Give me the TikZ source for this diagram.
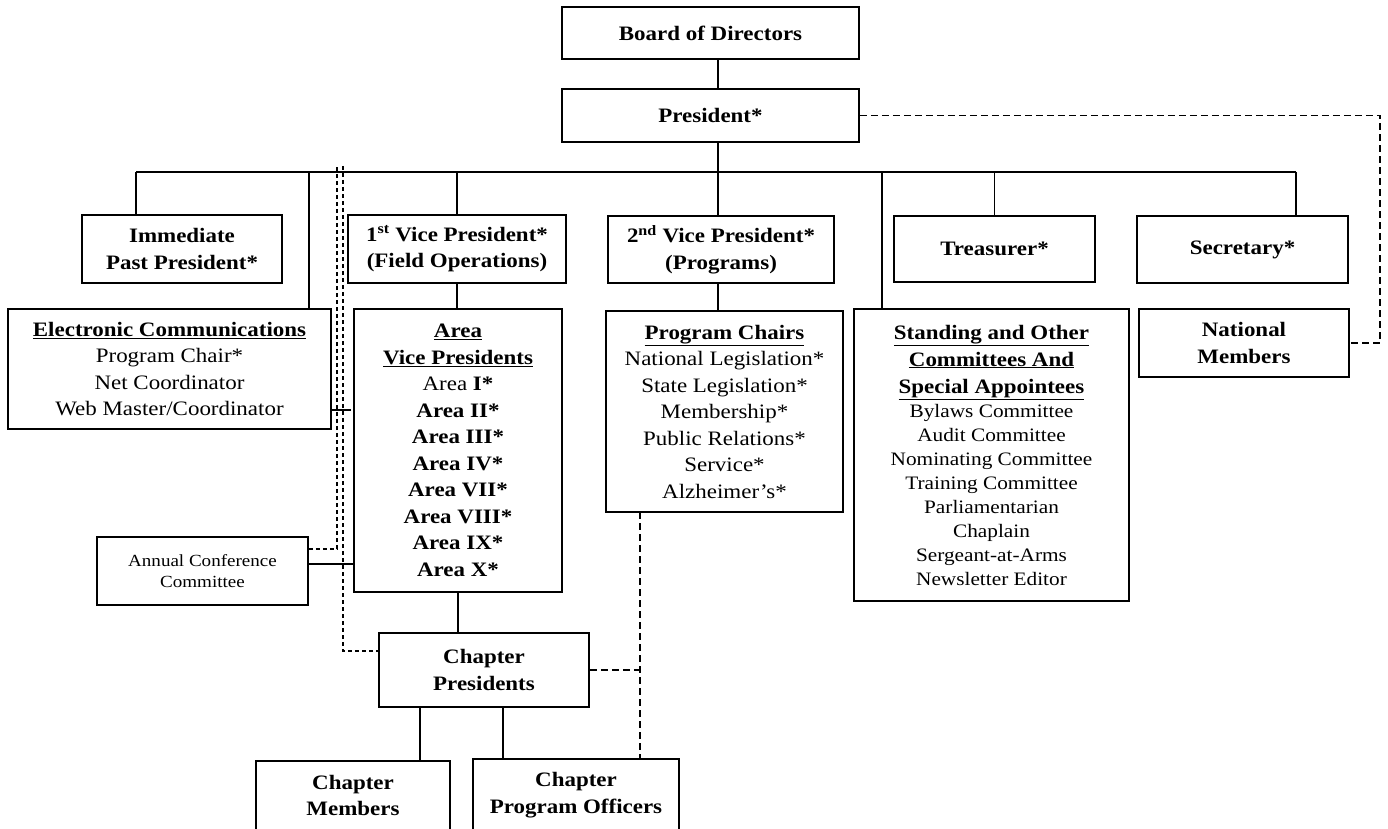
\documentclass[tikz,border=0pt]{standalone}
\usepackage{fontspec}
\setmainfont{Liberation Serif}[FakeStretch=1.12]
\usetikzlibrary{calc}

\begin{document}
\begin{tikzpicture}[x=1pt,y=-1pt,
                    box/.style={draw,fill=white,line width=1.8pt,inner sep=0pt,align=center,
                                font=\fontsize{20.5}{26.5}\selectfont\bfseries},
                    list/.style={box,font=\fontsize{20.5}{26.5}\selectfont},
                    link/.style={line width=1.6pt},
                    dashline/.style={line width=1.6pt,dash pattern=on 7pt off 4pt},
                    dashpair/.style={line width=1.4pt,dash pattern=on 4pt off 3pt}
]
\useasboundingbox (0,0) rectangle (1388,829);
\clip (0,0) rectangle (1388,829);

% top of the chart
\node [box, minimum width=297pt, minimum height=52pt] at (710.5,33) (board) {Board of Directors};
\node [box, minimum width=297pt, minimum height=53pt] at (710.5,115.5) (pres) {President*};
%
\node [box, minimum width=200pt, minimum height=68pt] at (182,249) (ipp) {Immediate\\Past President*};
\node [box, minimum width=218pt, minimum height=68pt] at (457,249) (vp1) {1\textsuperscript{st} Vice President*\\(Field Operations)};
\node [box, minimum width=226pt, minimum height=67pt] at (721,249.5) (vp2) {2\textsuperscript{nd} Vice President*\\(Programs)};
\node [box, minimum width=201pt, minimum height=66pt] at (994.5,249) (treas) {Treasurer*};
\node [box, minimum width=211pt, minimum height=67pt] at (1242.5,249.5) (sec) {Secretary*};
%
\node [list, minimum width=323pt, minimum height=120pt] at (169.5,369) (ecomm) {\textbf{\underline{Electronic Communications}}\\Program Chair*\\Net Coordinator\\Web Master/Coordinator};
\node [list, minimum width=208pt, minimum height=283pt] at (458,450.5) (avp) {\textbf{\underline{Area}}\\\textbf{\underline{Vice Presidents}}\\Area \textbf{I*}\\\textbf{Area II*}\\\textbf{Area III*}\\\textbf{Area IV*}\\\textbf{Area VII*}\\\textbf{Area VIII*}\\\textbf{Area IX*}\\\textbf{Area X*}};
\node [list, minimum width=237pt, minimum height=201pt] at (724.5,411.5) (pchairs) {\textbf{\underline{Program Chairs}}\\National Legislation*\\State Legislation*\\Membership*\\Public Relations*\\Service*\\Alzheimer's*};
\node [list, font=\fontsize{19}{24}\selectfont, minimum width=275pt, minimum height=292pt] at (991.5,455) (stand) {{\fontsize{20.5}{27}\selectfont\bfseries\underline{Standing and Other}}\\[3pt]{\fontsize{20.5}{27}\selectfont\bfseries\underline{Committees And}}\\[3pt]{\fontsize{20.5}{27}\selectfont\bfseries\underline{Special Appointees}}\\Bylaws Committee\\Audit Committee\\Nominating Committee\\Training Committee\\Parliamentarian\\Chaplain\\Sergeant-at-Arms\\Newsletter Editor};
\node [box, minimum width=210pt, minimum height=68pt] at (1244,343) (natmem) {National\\Members};
%
\node [list, font=\fontsize{17}{21}\selectfont, minimum width=211pt, minimum height=68pt] at (202.5,571) (acc) {Annual Conference\\Committee};
\node [box, minimum width=210pt, minimum height=74pt] at (484,670) (chpres) {Chapter\\Presidents};
\node [box, minimum width=194pt, minimum height=69pt] at (353,795.5) (chmem) {Chapter\\Members};
\node [box, minimum width=206pt, minimum height=72pt] at (576,795) (chpo) {Chapter\\Program Officers};

% points the lines turn at
\coordinate (busL) at (136,172);
\coordinate (busR) at (1296,172);
\coordinate (trunk) at (718,172);
\coordinate (ecdrop) at (309,172);
\coordinate (stdrop) at (882,172);
\coordinate (natR) at (1380,115.5);
\coordinate (pairL) at (337,166);
\coordinate (pairR) at (343,166);
\coordinate (pcdash) at (640,512);
\coordinate (accout) at ([yshift=7pt]acc.east);
\coordinate (accdash) at ([yshift=22pt]acc.east);
\coordinate (ectick) at ([yshift=-41pt]ecomm.east);
\coordinate (cpdash) at ([yshift=19pt]chpres.west);
\coordinate (cpmem) at ([xshift=-64pt]chpres.south);
\coordinate (cpoff) at ([xshift=19pt]chpres.south);

\draw [link] (board.south -| trunk) -- (pres.north -| trunk);
\draw [link] (pres.south -| trunk) -- (vp2.north -| trunk);
\draw [link] (busL) -- (busR);
\draw [link] (busL) -- (busL |- ipp.north);
\draw [link] (ecdrop) -- (ecdrop |- ecomm.north);
\draw [link] (vp1.north |- busL) -- (vp1.north);
\draw [link] (stdrop) -- (stdrop |- stand.north);
\draw [link] (treas.north |- busL) -- (treas.north);
\draw [link] (busR) -- (busR |- sec.north);

\draw [link] (vp1.south) -- (vp1.south |- avp.north);
\draw [link] (vp2.south -| trunk) -- (pchairs.north -| trunk);
\draw [link] (avp.south) -- (avp.south |- chpres.north);
\draw [link] (cpmem) -- (cpmem |- chmem.north);
\draw [link] (cpoff) -- (cpoff |- chpo.north);
\draw [link] (accout) -- (accout -| avp.west);
\draw [link] (ectick) -- ++(19,0);

\draw [dashline] (pres.east) -- (natR) |- (natmem.east);
\draw [dashpair] (accdash) -| (pairL);
\draw [dashpair] (pairR) |- (cpdash);
\draw [dashline] (pcdash) -- (pcdash |- chpo.north);
\draw [dashline] (chpres.east) -- (chpres.east -| pcdash);
\end{tikzpicture}
\end{document}
